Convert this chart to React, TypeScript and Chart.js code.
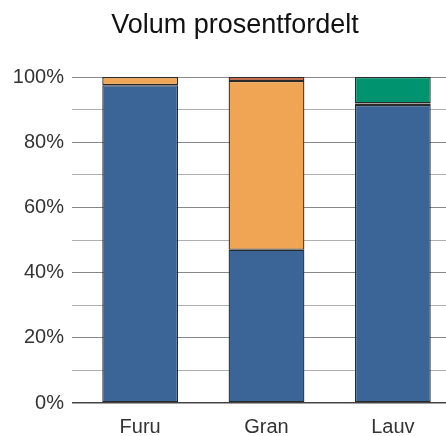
import React, { useEffect, useRef } from "react";
import { Chart, registerables } from "chart.js";

Chart.register(...registerables);

const categories = ["Furu", "Gran", "Lauv"];
const seriesBlue = [97.5, 47.0, 91.4];
const seriesOrange = [2.5, 51.8, 0.5];
const seriesRed = [null, 1.2, null];
const seriesGreen = [null, null, 8.1];
const titleText = "Volum prosentfordelt";

export default function App() {
  const ref = useRef<HTMLCanvasElement>(null);
  useEffect(() => {
    document.body.style.margin = "0";
    const ctx = ref.current!;
    const mk = (data: (number | null)[], color: string) => ({
      data,
      backgroundColor: color,
      borderColor: "#2a2a2a",
      borderWidth: 1.3,
      borderSkipped: false as const,
      barPercentage: 0.6,
      categoryPercentage: 1,
    });
    const chart = new Chart(ctx, {
      type: "bar",
      data: {
        labels: categories,
        datasets: [
          mk(seriesBlue, "#3b6597"),
          mk(seriesOrange, "#f0a555"),
          mk(seriesRed, "#d8501e"),
          mk(seriesGreen, "#00936f"),
        ],
      },
      options: {
        animation: false,
        responsive: false,
        layout: { padding: { left: 14, right: 0, top: 9, bottom: 0 } },
        plugins: {
          legend: { display: false },
          tooltip: { enabled: false },
          title: {
            display: true,
            text: titleText,
            color: "#111",
            font: { family: "Liberation Sans", size: 27, weight: "normal" },
            padding: { top: 0, bottom: 35.6 },
          },
        },
        scales: {
          x: {
            stacked: true,
            grid: { display: false },
            border: { display: false },
            afterFit: (s: any) => {
              s.height = 33;
            },
            ticks: {
              color: "#333",
              font: { family: "Liberation Sans", size: 20 },
              padding: 4,
            },
          },
          y: {
            stacked: true,
            min: 0,
            max: 100,
            afterFit: (s: any) => {
              s.width = 63;
            },
            border: { display: false },
            grid: {
              drawTicks: true,
              tickLength: 5,
              color: (c: any) =>
                c.tick && c.tick.value === 0
                  ? "#444"
                  : c.tick && c.tick.value % 20 === 0
                  ? "#888"
                  : "#b0b0b0",
              lineWidth: (c: any) => (c.tick && c.tick.value === 0 ? 1.5 : 1),
            },
            ticks: {
              stepSize: 10,
              color: "#333",
              padding: 8,
              font: { family: "Liberation Sans", size: 20 },
              callback: (v: any) => (Number(v) % 20 === 0 ? v + "%" : ""),
            },
          },
        },
      },
    });
    return () => chart.destroy();
  }, []);
  return (
    <div style={{ width: 446, height: 436, overflow: "hidden" }}>
      <canvas ref={ref} width={456} height={436} />
    </div>
  );
}
